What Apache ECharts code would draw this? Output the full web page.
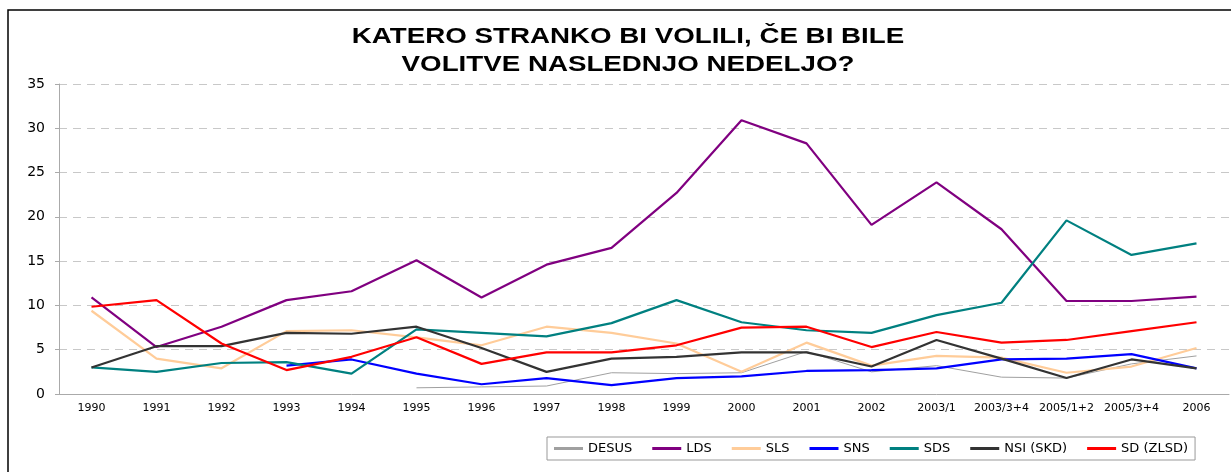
<!DOCTYPE html>
<html>
<head>
<meta charset="utf-8">
<script src="https://cdn.jsdelivr.net/npm/echarts@6/dist/echarts.min.js"></script>
<style>
  html, body { margin: 0; padding: 0; background: #fff; }
  #main { width: 1231px; height: 472px; }
</style>
</head>
<body>
<div id="main"></div>
<script>
var years = ['1990', '1991', '1992', '1993', '1994', '1995', '1996', '1997', '1998', '1999',
    '2000', '2001', '2002', '2003/1', '2003/3+4', '2005/1+2', '2005/3+4', '2006'];

// podatki odčitani s slike
var desus = [null, null, null, null, null, 0.7, 0.8, 0.9, 2.4, 2.3, 2.4, 4.8, 2.5, 3.2, 1.9, 1.8, 3.4, 4.3];
var lds = [10.9, 5.3, 7.6, 10.6, 11.6, 15.1, 10.9, 14.6, 16.5, 22.7, 30.9, 28.3, 19.1, 23.9, 18.6, 10.5, 10.5, 11.0];
var sls = [9.4, 4.0, 2.9, 7.1, 7.2, 6.4, 5.5, 7.6, 6.9, 5.7, 2.5, 5.8, 3.2, 4.3, 4.1, 2.4, 3.1, 5.2];
var sns = [null, null, null, 3.2, 3.9, 2.3, 1.1, 1.8, 1.0, 1.8, 2.0, 2.6, 2.7, 2.9, 3.9, 4.0, 4.5, 2.9];
var sds = [3.0, 2.5, 3.5, 3.6, 2.3, 7.3, 6.9, 6.5, 8.0, 10.6, 8.1, 7.2, 6.9, 8.9, 10.3, 19.6, 15.7, 17.0];
var nsi = [3.0, 5.4, 5.4, 6.9, 6.8, 7.6, 5.2, 2.5, 4.0, 4.2, 4.7, 4.7, 3.1, 6.1, 4.0, 1.8, 3.9, 2.9];
var sd = [9.85, 10.6, 5.7, 2.7, 4.2, 6.4, 3.4, 4.7, 4.7, 5.5, 7.5, 7.6, 5.3, 7.0, 5.8, 6.1, 7.1, 8.1];

var titleLines = ['KATERO STRANKO BI VOLILI, ČE BI BILE', 'VOLITVE NASLEDNJO NEDELJO?'];

var myChart = echarts.init(document.getElementById('main'));

function line(name, data, color, width) {
    return {
        name: name,
        type: 'line',
        data: data,
        symbol: 'none',
        lineStyle: { color: color, width: width },
        itemStyle: { color: color },
        animation: false
    };
}

// naslov - raztegnjen v širino kot na originalu
function titleText(txt, y) {
    return {
        type: 'text',
        x: 628,
        y: y,
        scaleX: 1.26,
        silent: true,
        style: {
            text: txt,
            fill: '#000',
            font: 'bold 22px "Liberation Sans", Arial, sans-serif',
            textAlign: 'center',
            textVerticalAlign: 'middle'
        }
    };
}

var option = {
    backgroundColor: '#fff',
    textStyle: { fontFamily: 'DejaVu Sans, sans-serif' },
    graphic: [
        {
            type: 'rect',
            shape: { x: 8, y: 10, width: 1240, height: 480 },
            style: { fill: 'none', stroke: '#000', lineWidth: 1.5 },
            silent: true
        },
        titleText(titleLines[0], 36.5),
        titleText(titleLines[1], 64.5)
    ],
    legend: {
        left: 547,
        top: 437,
        padding: [5, 7, 5, 7],
        borderColor: '#999',
        borderWidth: 1,
        icon: 'rect',
        itemWidth: 29,
        itemHeight: 3,
        itemGap: 20,
        textStyle: { fontSize: 13, color: '#000', fontFamily: 'DejaVu Sans, sans-serif' }
    },
    grid: { left: 59, right: 2, top: 84, bottom: 78 },
    xAxis: {
        type: 'category',
        data: years,
        boundaryGap: true,
        axisLine: { lineStyle: { color: '#aaa' } },
        axisTick: { lineStyle: { color: '#aaa' }, length: 4 },
        axisLabel: { color: '#000', fontSize: 11, margin: 9, interval: 0 }
    },
    yAxis: {
        type: 'value',
        min: 0,
        max: 35,
        interval: 5,
        axisLine: { show: true, lineStyle: { color: '#aaa' } },
        axisTick: { show: true, length: 4, lineStyle: { color: '#aaa' } },
        axisLabel: { color: '#000', fontSize: 14, margin: 14 },
        splitLine: { lineStyle: { color: '#c8c8c8', type: [8, 6] } }
    },
    series: [
        line('DESUS', desus, '#a0a0a0', 1),
        line('LDS', lds, '#800080', 2.2),
        line('SLS', sls, '#ffcc99', 2.2),
        line('SNS', sns, '#0000ff', 2.2),
        line('SDS', sds, '#008080', 2.2),
        line('NSI (SKD)', nsi, '#333333', 2.2),
        line('SD (ZLSD)', sd, '#ff0000', 2.2)
    ]
};

myChart.setOption(option);
</script>
</body>
</html>
